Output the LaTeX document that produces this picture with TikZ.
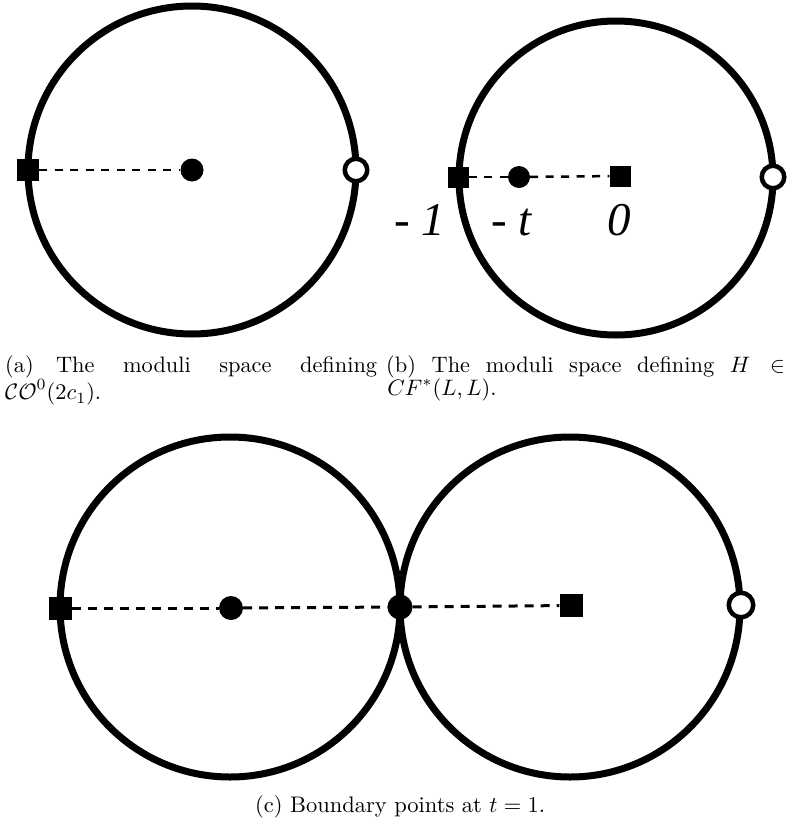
\documentclass[tikz,border=0pt]{standalone}
\usepackage{graphicx}
\usepackage{fontspec}
\newfontfamily\timesfont{Liberation Serif}
\begin{document}
\begin{tikzpicture}[x=1pt,y=-1pt,
  rim/.style={draw, circle, line width=7pt, inner sep=0pt},
  sqr/.style={fill, rectangle, inner sep=0pt},
  blob/.style={fill, circle, inner sep=0pt},
  hole/.style={draw, fill=white, circle, line width=4.5pt, inner sep=0pt, minimum size=22.5pt},
  dashln/.style={dash pattern=on 8pt off 7.5pt, line width=2.5pt},
  dashlnc/.style={dash pattern=on 9pt off 7pt, line width=3pt},
  captxt/.style={inner sep=0pt, anchor=base west},
  lbl/.style={font=\timesfont\itshape\fontsize{47}{50}\selectfont, inner sep=0pt, anchor=base west}]
\useasboundingbox (0,0) rectangle (797,825);
% (a)
\node[rim, minimum size=328pt] (ca) at (192,170) {};
\node[sqr, minimum size=22pt] (asq) at (28,170) {};
\node[blob, minimum size=23pt] (adot) at (192,170) {};
\node[hole] (aopen) at (356,170) {};
\draw[dashln] (asq) -- (adot);
% (b)
\node[rim, minimum size=314pt] (cb) at (616,178) {};
\node[sqr, minimum size=21pt] (bsqa) at (458,177) {};
\node[blob, minimum size=22pt] (bdot) at (519,177) {};
\node[sqr, minimum size=21pt] (bsqb) at (620,176) {};
\node[hole] (bopen) at (773,177) {};
\draw[dashln] (bsqa) -- (bdot);
\draw[dashln] (bdot) -- (bsqb);
\node[lbl] (lm1) at (394,235) {- 1};
\node[lbl] (lmt) at (491,235) {- t};
\node[lbl, anchor=base] (l0) at (619,235) {0};
% (c)
\node[rim, minimum size=340pt] (cl) at (230,607) {};
\node[rim, minimum size=340pt] (cr) at (570,607) {};
\node[sqr, minimum size=23pt] (csqa) at (60,608) {};
\node[blob, minimum size=24pt] (cdot) at (231,608) {};
\node[blob, minimum size=25pt] (cjoin) at (400,607) {};
\node[sqr, minimum size=23pt] (csqb) at (571,605.5) {};
\node[hole, minimum size=24.5pt] (copen) at (741,605) {};
\draw[dashlnc] (csqa) -- (cdot);
\draw[dashlnc] (cdot) -- (cjoin);
\draw[dashlnc] (cjoin) -- (csqb);
% captions
\node[captxt] (capa) at (5,372) {\scalebox{2.235}{\parbox[t]{166.4pt}{\baselineskip=10.3pt\makebox[166.4pt][s]{(a)\hspace{10pt}The moduli space defining}\\ $\mathcal{CO}^0(2c_1)$.}}};
\node[captxt] (capb) at (386,372) {\scalebox{2.235}{\parbox[t]{178.5pt}{\baselineskip=10.3pt\makebox[178.5pt][s]{(b) The moduli space defining $H \in$}\\ \hspace*{0.5pt}$CF^*(L,L)$.}}};
\node[captxt] (capc) at (255,812) {\scalebox{2.25}{(c) Boundary points at $t=1$.}};
\end{tikzpicture}
\end{document}
